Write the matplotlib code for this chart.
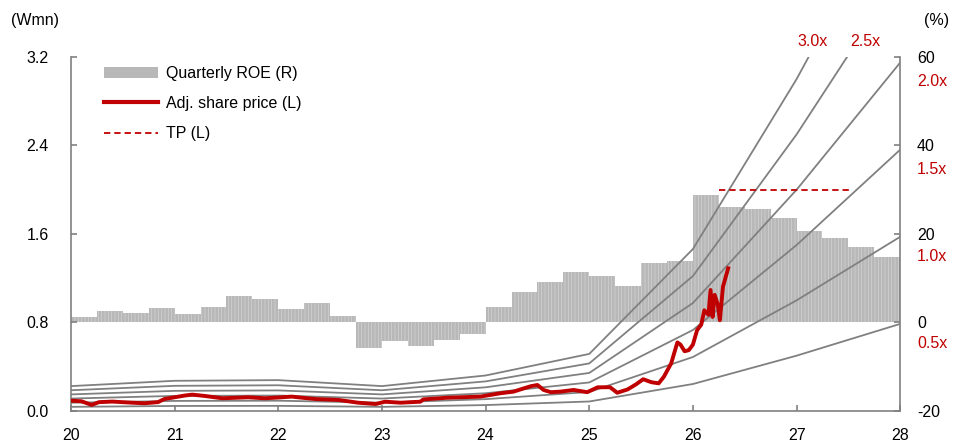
import numpy as np
import matplotlib
matplotlib.use("Agg")
import matplotlib.pyplot as plt
from matplotlib.patches import Patch
from matplotlib.lines import Line2D

plt.rcParams["font.family"] = ["Liberation Sans", "DejaVu Sans"]
plt.rcParams["font.size"] = 11.5
plt.rcParams["axes.unicode_minus"] = False
plt.rcParams["hatch.color"] = "#d9d9d9"
plt.rcParams["hatch.linewidth"] = 0.4

# quarterly ROE (%), right axis, 2020Q1 .. 2027Q4
roe_start = 20.0
roe = [1.2, 2.5, 2.1, 3.3,
       1.9, 3.6, 5.9, 5.4,
       3.1, 4.4, 1.5, -5.8,
       -4.2, -5.2, -3.9, -2.6,
       3.5, 7.0, 9.1, 11.5,
       10.5, 8.3, 13.5, 13.9,
       28.8, 26.0, 25.6, 23.7,
       20.6, 19.0, 17.1, 14.9]

# book value per share (Wmn) at the start of each year, for the PBR bands
bps_years = [20, 21, 22, 23, 24, 25, 26, 27, 28]
bps = [0.075, 0.091, 0.093, 0.075, 0.107, 0.172, 0.488, 1.0, 1.575]
multiples = [0.5, 1.0, 1.5, 2.0, 2.5, 3.0]

# adjusted share price (Wmn)
price_t = [20.00, 20.10, 20.20, 20.27, 20.40, 20.59, 20.71, 20.84, 20.90, 21.00,
           21.10, 21.17, 21.29, 21.46, 21.60, 21.71, 21.87, 22.00, 22.13, 22.25,
           22.36, 22.58, 22.77, 22.94, 23.03, 23.18, 23.37, 23.40, 23.63, 23.95,
           24.14, 24.27, 24.37, 24.44, 24.50, 24.56, 24.63, 24.72, 24.85, 24.98,
           25.08, 25.20, 25.27, 25.37, 25.45, 25.52, 25.60, 25.67, 25.72, 25.79,
           25.85, 25.88, 25.92, 25.96, 26.00, 26.04, 26.08, 26.11, 26.15, 26.17,
           26.19, 26.21, 26.24, 26.26, 26.29, 26.34]
price = [0.093, 0.088, 0.055, 0.080, 0.085, 0.075, 0.070, 0.080, 0.108, 0.124,
         0.140, 0.148, 0.136, 0.115, 0.120, 0.124, 0.115, 0.122, 0.130, 0.118,
         0.108, 0.100, 0.075, 0.063, 0.084, 0.075, 0.084, 0.105, 0.120, 0.130,
         0.160, 0.175, 0.205, 0.225, 0.235, 0.190, 0.170, 0.175, 0.190, 0.170,
         0.214, 0.215, 0.165, 0.195, 0.240, 0.287, 0.260, 0.250, 0.310, 0.430,
         0.620, 0.600, 0.540, 0.550, 0.600, 0.730, 0.780, 0.910, 0.870, 1.094,
         0.850, 1.050, 0.960, 0.820, 1.124, 1.290]

tp_value = 2.0
tp_span = [26.25, 27.53]

RED = "#c00000"
GRAY = "#808080"

fig = plt.figure(figsize=(9.68, 4.48), dpi=100)
ax = fig.add_axes([0.0733, 0.0826, 0.8567, 0.7902])
ax2 = ax.twinx()
ax.set_zorder(ax2.get_zorder() + 1)
ax.patch.set_visible(False)

# bars on the right axis
qx = roe_start + 0.25 * np.arange(len(roe))
ax2.bar(qx, roe, width=0.25, align="edge", color="#b8b8b8", linewidth=0,
        hatch="|||||", zorder=1)

# PBR bands
for m in multiples:
    ax.plot(bps_years, np.array(bps) * m, color=GRAY, lw=1.3, zorder=2,
            solid_joinstyle="miter")

ax.plot(price_t, price, color=RED, lw=2.8, zorder=3)
ax.plot(tp_span, [tp_value, tp_value], color=RED, lw=1.3, ls=(0, (3.5, 2.2)), zorder=3)

ax.set_xlim(20, 28)
ax.set_ylim(0, 3.2)
ax2.set_ylim(-20, 60)
ax.set_xticks(range(20, 29))
ax.set_yticks([0, 0.8, 1.6, 2.4, 3.2])
ax.set_yticklabels([f"{v:.1f}" for v in [0, 0.8, 1.6, 2.4, 3.2]])
ax2.set_yticks([-20, 0, 20, 40, 60])

for a in (ax, ax2):
    for side in ("left", "right", "bottom"):
        a.spines[side].set_color(GRAY)
        a.spines[side].set_linewidth(1.2)
    a.spines["top"].set_visible(False)
    a.tick_params(direction="in", color=GRAY, length=4, width=1.2)
ax.spines["right"].set_visible(False)
ax2.spines["left"].set_visible(False)
ax2.spines["bottom"].set_visible(False)
ax.tick_params(axis="y", pad=16)
ax.tick_params(axis="x", pad=12)
ax2.tick_params(axis="y", pad=12)

fig.text(0.011, 0.955, "(Wmn)", ha="left", va="center")
fig.text(0.955, 0.955, "(%)", ha="left", va="center")

# band labels
top = 3.2
for m in multiples:
    vals = np.array(bps) * m
    if vals[-1] <= top:
        ax.annotate(f"{m:.1f}x", xy=(28, vals[-1]), xytext=(12, -14),
                    textcoords="offset points", ha="left", va="center",
                    color=RED, annotation_clip=False)
    else:
        cross = np.interp(top, vals, bps_years)
        dx = 3 if m == 3.0 else 13
        ax.annotate(f"{m:.1f}x", xy=(cross, top), xytext=(dx, 11),
                    textcoords="offset points", ha="center", va="center",
                    color=RED, annotation_clip=False)

handles = [Patch(facecolor="#b8b8b8", edgecolor="none"),
           Line2D([], [], color=RED, lw=3),
           Line2D([], [], color=RED, lw=1.3, ls=(0, (3.5, 2.2)))]
labels = ["Quarterly ROE (R)", "Adj. share price (L)", "TP (L)"]
ax.legend(handles, labels, loc="upper left", bbox_to_anchor=(0.04, 0.975),
          frameon=False, borderpad=0, borderaxespad=0, handlelength=3.4,
          handletextpad=0.45, labelspacing=0.95)

fig.savefig("out.png", dpi=100)
